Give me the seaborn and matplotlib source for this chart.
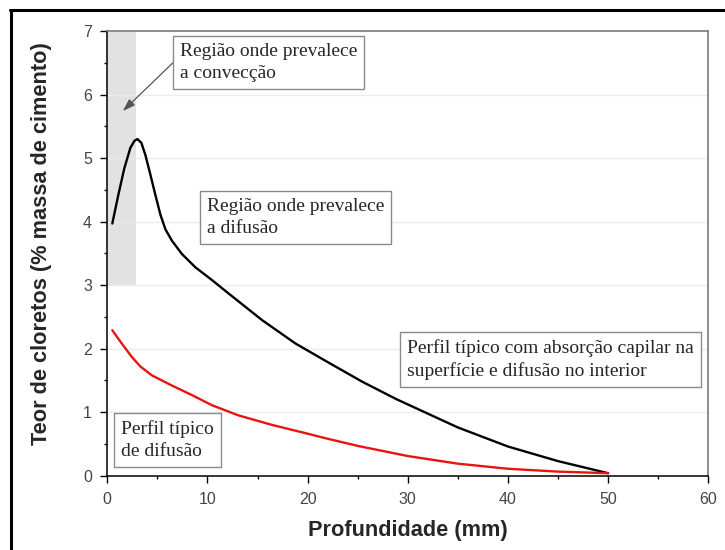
import matplotlib
matplotlib.use("Agg")
import matplotlib.pyplot as plt
from matplotlib.lines import Line2D
from matplotlib.ticker import MultipleLocator
import pandas as pd
import seaborn as sns

# Chloride profile with capillary absorption at the surface and diffusion inside
depth_conv = [0.5, 1.1, 1.7, 2.3, 2.7, 3.0, 3.4, 3.8, 4.3, 4.8, 5.3, 5.8, 6.45,
              7.45, 8.8, 10.45, 12.1, 15.45, 18.8, 22.1, 25.45, 28.8, 30.45,
              35, 40, 45, 50]
chloride_conv = [3.97, 4.42, 4.84, 5.16, 5.27, 5.30, 5.24, 5.05, 4.74, 4.42,
                 4.11, 3.88, 3.70, 3.49, 3.28, 3.08, 2.87, 2.45, 2.08, 1.78,
                 1.48, 1.21, 1.09, 0.76, 0.46, 0.23, 0.04]

# Typical pure diffusion profile
depth_diff = [0.5, 1.45, 2.45, 3.3, 4.45, 6.45, 8.45, 10.45, 13.1, 16.45,
              19.8, 21.8, 25, 30, 35, 40, 45, 50]
chloride_diff = [2.29, 2.08, 1.87, 1.72, 1.58, 1.42, 1.27, 1.11, 0.95, 0.80,
                 0.67, 0.59, 0.47, 0.31, 0.19, 0.11, 0.065, 0.04]

convection_zone = (0.0, 2.9)
x_ticks = [0, 10, 20, 30, 40, 50, 60]
y_ticks = [0, 1, 2, 3, 4, 5, 6, 7]

xlabel = "Profundidade (mm)"
ylabel = "Teor de cloretos (% massa de cimento)"
label_conv = "Região onde prevalece\na convecção"
label_diffzone = "Região onde prevalece\na difusão"
label_capillary = "Perfil típico com absorção capilar na\nsuperfície e difusão no interior"
label_diffusion = "Perfil típico\nde difusão"

sns.set_style("white")
plt.rcParams["font.family"] = ["Liberation Sans", "DejaVu Sans"]

fig = plt.figure(figsize=(7.25, 5.5), dpi=100)
ax = fig.add_axes([0.148, 0.135, 0.829, 0.8086])

df_conv = pd.DataFrame({"x": depth_conv, "y": chloride_conv})
df_diff = pd.DataFrame({"x": depth_diff, "y": chloride_diff})

ax.fill_between(list(convection_zone), 3, 7, color="#e2e2e2", lw=0, zorder=0)

sns.lineplot(data=df_conv, x="x", y="y", ax=ax, color="black", lw=1.7,
             sort=False, estimator=None, zorder=3)
sns.lineplot(data=df_diff, x="x", y="y", ax=ax, color="#e8140f", lw=1.7,
             sort=False, estimator=None, zorder=3)
for line in ax.lines:
    line.set_solid_joinstyle("round")
    line.set_solid_capstyle("round")

ax.set_xlim(x_ticks[0], x_ticks[-1])
ax.set_ylim(y_ticks[0], y_ticks[-1])
ax.set_xticks(x_ticks)
ax.set_yticks(y_ticks)
ax.xaxis.set_minor_locator(MultipleLocator(5))
ax.yaxis.set_minor_locator(MultipleLocator(0.5))

ax.grid(axis="y", which="major", color="#ececec", lw=1.0, zorder=0)
ax.set_axisbelow(True)

ax.tick_params(axis="both", which="major", direction="out", length=5, width=1,
               color="black", labelsize=11.5, labelcolor="#454545",
               bottom=True, left=True)
ax.tick_params(axis="both", which="minor", direction="out", length=2.5,
               width=1, color="black", bottom=True, left=True)
ax.tick_params(axis="x", which="major", pad=7)
ax.tick_params(axis="y", which="major", pad=6)

for side in ("left", "bottom"):
    ax.spines[side].set_color("black")
    ax.spines[side].set_linewidth(1.1)
for side in ("top", "right"):
    ax.spines[side].set_color("#7a7a7a")
    ax.spines[side].set_linewidth(1.2)

ax.set_xlabel(xlabel, fontsize=15.7, fontweight="bold", labelpad=9)
ax.set_ylabel(ylabel, fontsize=15.7, fontweight="bold")
ax.yaxis.set_label_coords(-0.092, 0.521)

box = dict(boxstyle="square,pad=0.35", facecolor="white", edgecolor="#8a8a8a",
           lw=1.0)
serif = ["Liberation Serif", "DejaVu Serif"]
text_kw = dict(fontsize=14, family=serif, color="#262626", ha="center",
               va="center", multialignment="left", bbox=box, zorder=5,
               linespacing=1.4)

ax.text(16.1, 6.5, label_conv, **text_kw)
ax.text(18.8, 4.07, label_diffzone, **text_kw)
ax.text(44.25, 1.83, label_capillary, **text_kw)
ax.text(6.0, 0.56, label_diffusion, **text_kw)

ax.annotate("", xy=(1.55, 5.74), xytext=(6.55, 6.5),
            arrowprops=dict(arrowstyle="-|>,head_length=0.75,head_width=0.25",
                            color="#555555", lw=0.9, shrinkA=0, shrinkB=0),
            zorder=4)

# frame lines along the top and left edges of the figure
fig.add_artist(Line2D([10 / 725, 1.0], [1 - 10 / 550, 1 - 10 / 550],
                      color="black", lw=2.2, transform=fig.transFigure))
fig.add_artist(Line2D([11 / 725, 11 / 725], [0.0, 1 - 10 / 550],
                      color="black", lw=2.2, transform=fig.transFigure))

fig.savefig("out.png", dpi=100)
